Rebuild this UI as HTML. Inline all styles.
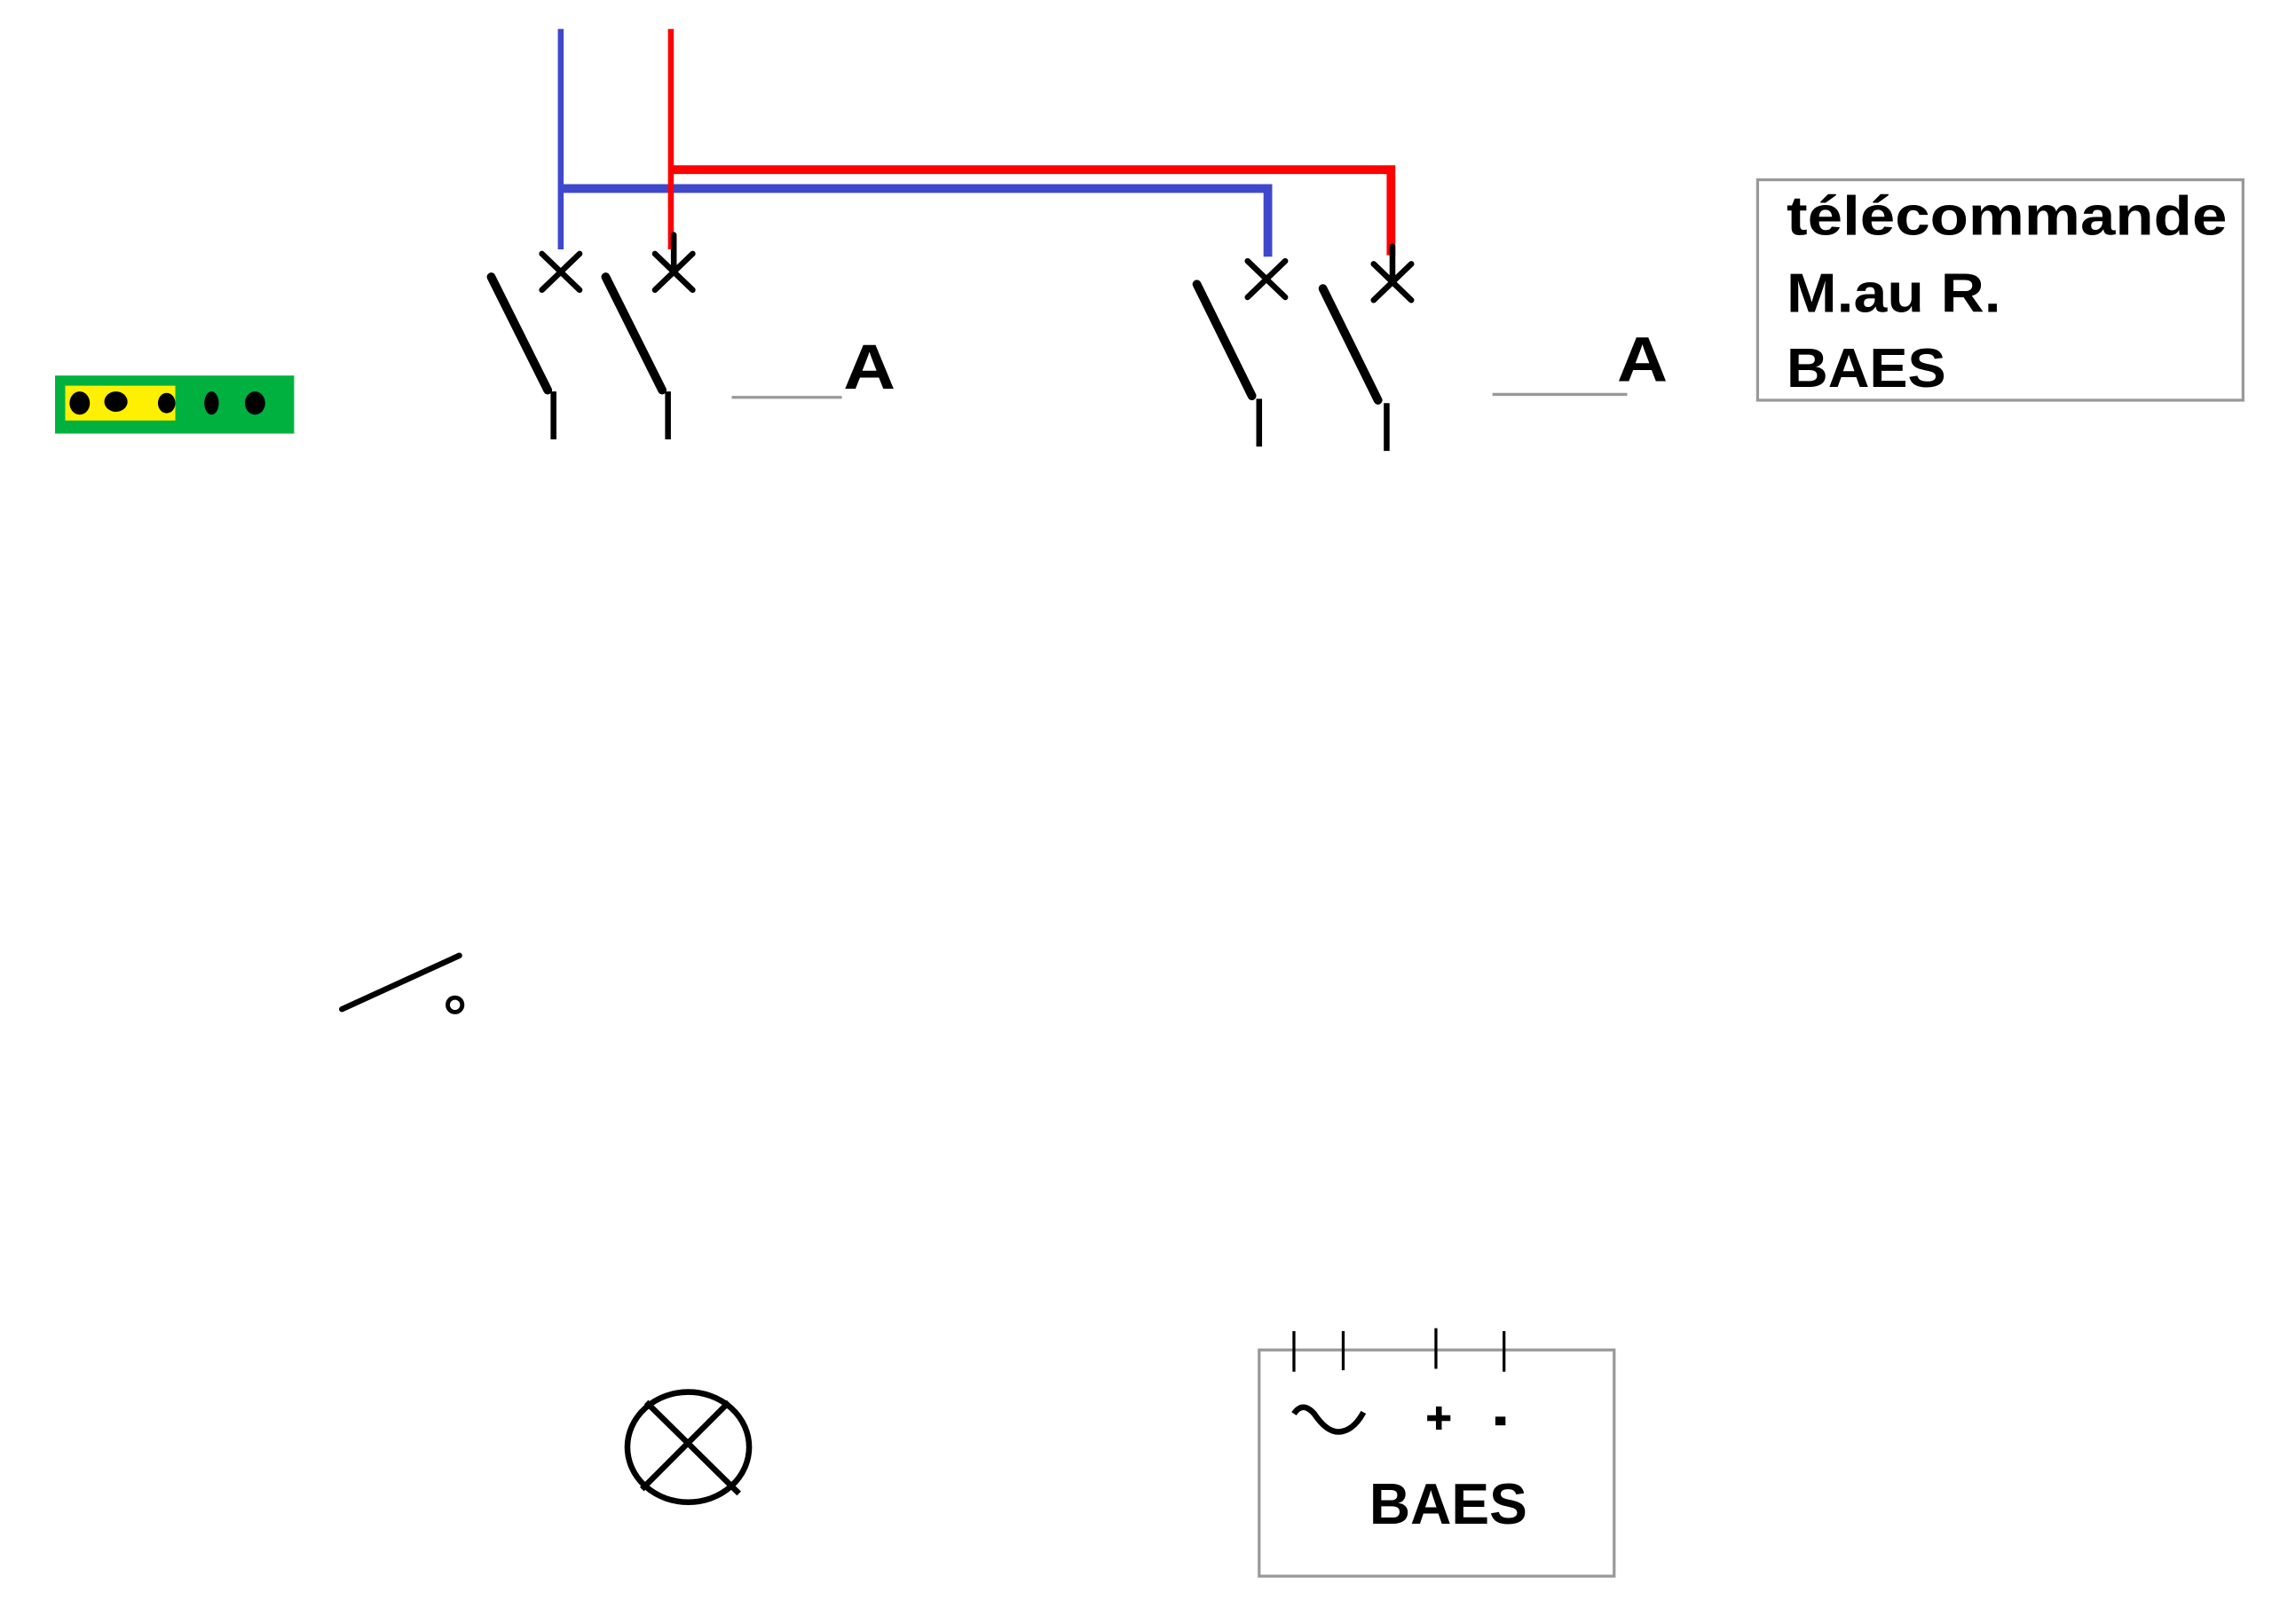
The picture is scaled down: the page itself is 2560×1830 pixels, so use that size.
<!DOCTYPE html>
<html><head><meta charset="utf-8"><style>
html,body{margin:0;padding:0;background:#fff;}
svg{display:block;}
text{font-family:"Liberation Sans Narrow","Liberation Sans",sans-serif;font-weight:bold;fill:#000;}
</style></head><body>
<svg width="2560" height="1830" viewBox="0 0 1568 1120" preserveAspectRatio="none" xmlns="http://www.w3.org/2000/svg">
<rect width="1568" height="1120" fill="#fff"/>
<g fill="none" stroke="#3f48cc" stroke-width="4">
<polyline points="387,20 387,172"/>
<polyline points="387,130 875,130 875,177" stroke-width="6"/>
</g>
<g fill="none" stroke="#ff0000" stroke-width="4">
<polyline points="463,20 463,172"/>
<polyline points="463,117 960,117 960,176" stroke-width="6"/>
</g>
<g stroke="#000" fill="none" stroke-linecap="round">
<path d="M374,175 L400,200 M400,175 L374,200" stroke-width="4"/>
<path d="M452,175 L478,200 M478,175 L452,200 M465,162 L465,188" stroke-width="4"/>
<path d="M339,191 L378,269" stroke-width="6"/>
<path d="M418,191 L457,269" stroke-width="6"/>
<path d="M382,270 L382,303 M461,270 L461,303" stroke-width="4" stroke-linecap="butt"/>
</g>
<g stroke="#000" fill="none" stroke-linecap="round">
<path d="M861,180 L887,205 M887,180 L861,205" stroke-width="4"/>
<path d="M948,182 L974,207 M974,182 L948,207 M961,170 L961,194" stroke-width="4"/>
<path d="M826,196 L864,273" stroke-width="6"/>
<path d="M913,199 L951,276" stroke-width="6"/>
<path d="M869,275 L869,308 M957,278 L957,311" stroke-width="4" stroke-linecap="butt"/>
</g>
<line x1="505" y1="274" x2="581" y2="274" stroke="#999" stroke-width="2"/>
<text x="582" y="268" font-size="44" textLength="36" lengthAdjust="spacingAndGlyphs">A</text>
<line x1="1030" y1="272" x2="1123" y2="272" stroke="#999" stroke-width="2"/>
<text x="1116" y="263" font-size="44" textLength="35" lengthAdjust="spacingAndGlyphs">A</text>
<g>
<rect x="1213" y="124" width="335" height="152" fill="none" stroke="#999" stroke-width="2"/>
<text x="1233" y="162" font-size="38" textLength="304" lengthAdjust="spacingAndGlyphs">télécommande</text>
<text x="1233" y="215" font-size="38" textLength="148" lengthAdjust="spacingAndGlyphs">M.au R.</text>
<text x="1233" y="267" font-size="38" textLength="110" lengthAdjust="spacingAndGlyphs">BAES</text>
</g>
<g>
<rect x="38" y="259" width="165" height="40" fill="#00b140"/>
<rect x="45" y="266" width="76" height="24" fill="#ffef00"/>
<ellipse cx="55" cy="278" rx="7" ry="8" fill="#000"/>
<ellipse cx="80" cy="277" rx="8" ry="7" fill="#000"/>
<ellipse cx="115" cy="278" rx="6" ry="7" fill="#000"/>
<ellipse cx="146" cy="278" rx="5" ry="8" fill="#000"/>
<ellipse cx="176" cy="278" rx="7" ry="8" fill="#000"/>
</g>
<g stroke="#000" fill="none">
<line x1="236" y1="696" x2="317" y2="659" stroke-width="4" stroke-linecap="round"/>
<circle cx="314" cy="693" r="5" stroke-width="3"/>
</g>
<g stroke="#000" fill="none" stroke-width="4">
<ellipse cx="475" cy="998" rx="42" ry="38"/>
<line x1="446" y1="967" x2="510" y2="1030"/>
<line x1="503" y1="967" x2="443" y2="1027"/>
</g>
<g>
<rect x="869" y="931" width="245" height="156" fill="none" stroke="#999" stroke-width="2"/>
<g stroke="#000" stroke-width="2">
<line x1="893" y1="918" x2="893" y2="946"/>
<line x1="927" y1="918" x2="927" y2="945"/>
<line x1="991" y1="916" x2="991" y2="944"/>
<line x1="1038" y1="918" x2="1038" y2="946"/>
</g>
<path d="M893,975 Q899,966 907,975 Q917,990 927,987 Q935,985 941,974" fill="none" stroke="#000" stroke-width="4"/>
<path d="M985,978 L1001,978 M993,970 L993,986" stroke="#000" stroke-width="4"/>
<rect x="1032" y="977" width="7" height="6" fill="#000"/>
<text x="945" y="1051" font-size="40" textLength="109" lengthAdjust="spacingAndGlyphs">BAES</text>
</g>
</svg>
</body></html>
